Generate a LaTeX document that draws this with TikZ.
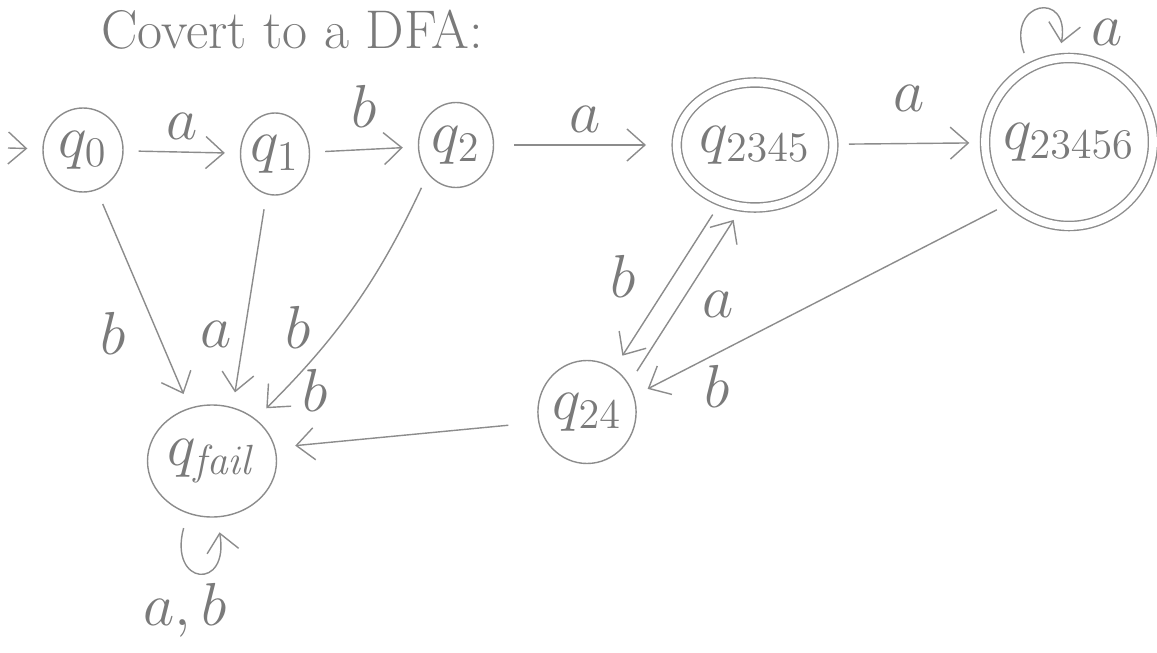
\documentclass[tikz,border=0pt]{standalone}
\usepackage{tikz}
\usetikzlibrary{arrows.meta,positioning,shapes.geometric}
\usepackage{amsmath}
\definecolor{pencil}{HTML}{8C8C8C}
\definecolor{pencilDark}{HTML}{7A7A7A}
\tikzset{
  estado/.style={ellipse, draw=pencil, thin, text=pencilDark, font=\LARGE, inner sep=0pt},
  aceptar/.style={double=white, double distance=2.2pt},
  trans/.style={-{Straight Barb[length=1.8mm,width=3.2mm]}, draw=pencil, thin, shorten <=1.5mm, shorten >=1.5mm},
  etiq/.style={text=pencilDark, font=\LARGE},
}

\begin{document}
\begin{tikzpicture}[x=0.1mm, y=-0.1mm]
\useasboundingbox (0,0) rectangle (1157,652);
\node[etiq, font=\fontsize{15.5}{18}\selectfont] (titulo) at (292,30) {Covert to a DFA:};
% estados
\node[estado, minimum width=8mm, minimum height=8.4mm] (q0) at (83,150) {$q_0$};
\node[estado, minimum width=6.2mm, minimum height=8.2mm] (q1) at (275,154) {$q_1$};
\node[estado, minimum width=7.5mm, minimum height=8.5mm] (q2) at (456,145) {$q_2$};
\node[estado, aceptar, minimum width=15.6mm, minimum height=12.5mm] (q2345) at (755,145) {$q_{2345}$};
\node[estado, aceptar, circle, minimum size=16.8mm] (q23456) at (1069,142) {$q_{23456}$};
\node[estado, minimum width=9.3mm, minimum height=10.3mm] (q24) at (587,412) {$q_{24}$};
\node[estado, minimum width=12.9mm, minimum height=11.2mm] (fail) at (212,461) {$q_{\mathit{fail}}$};
\coordinate (ini) at (8,148);
% transiciones
\draw[trans, shorten <=0pt] (ini) -- (q0);
\draw[trans] (q0) -- node[etiq, above] {$a$} (q1);
\draw[trans] (q1) -- node[etiq, above=1mm] {$b$} (q2);
\draw[trans, shorten <=2mm, shorten >=3mm] (q2) -- node[etiq, above] {$a$} (q2345);
\draw[trans] (q2345) -- node[etiq, above=2mm] {$a$} (q23456);
\draw[trans] (q23456.118) to[out=110, in=80, min distance=7mm] node[etiq, pos=0.85, right=2mm] {$a$} (q23456.97);
\draw[trans] (q0.289) -- node[etiq, pos=0.66, left=2mm] {$b$} (fail.113);
\draw[trans] (q1.258) -- node[etiq, pos=0.66, left=0mm] {$a$} (fail.69);
\draw[trans] (q2.226) to[bend left=10] node[etiq, pos=0.6, left=1.5mm] {$b$} (fail.44);
\draw[trans] (q2345.239) -- node[etiq, pos=0.45, left=2.5mm] {$b$} (q24.58);
\draw[trans] (q24.34) -- node[etiq, pos=0.45, right=1mm] {$a$} (q2345.258);
\draw[trans] (q23456.226) -- node[etiq, pos=0.78, below=0mm] {$b$} (q24.19);
\draw[trans, shorten <=3mm, shorten >=2mm] (q24.192) -- node[etiq, pos=0.85, above=2mm] {$b$} (fail.12);
\draw[trans] (fail.245) to[out=-105, in=-80, min distance=7.5mm] node[etiq, below=0mm, xshift=-1.5mm] {$a, b$} (fail.275);
\end{tikzpicture}
\end{document}
